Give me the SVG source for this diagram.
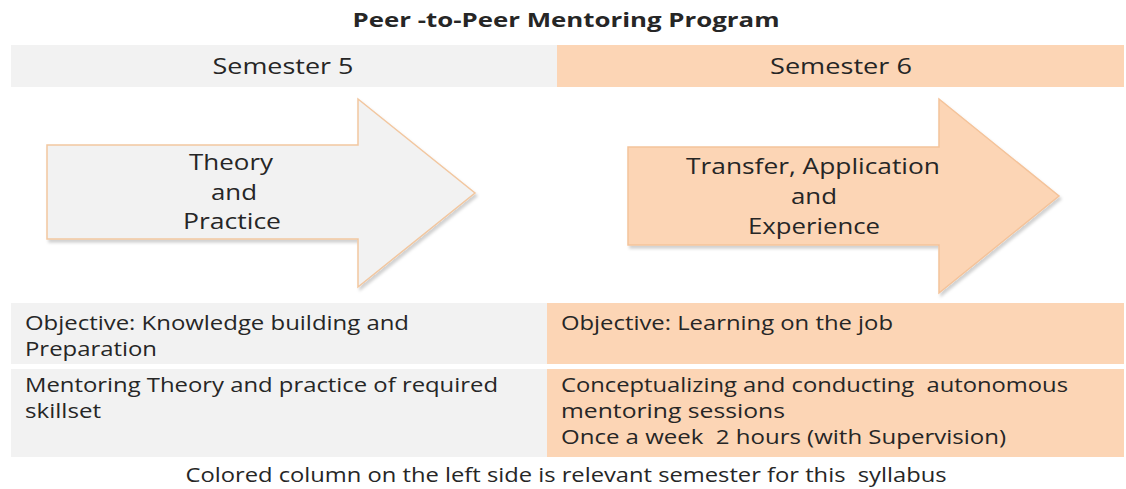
<svg xmlns="http://www.w3.org/2000/svg" width="1126" height="489" viewBox="0 0 1126 489">
<defs>
<style>
text{font-family:"Open Sans","Liberation Sans",sans-serif;fill:#262626;white-space:pre;}
.h{font-size:22px;text-anchor:middle;}
.b{font-size:20px;}
.grey{fill:#f2f2f2;}
.peach{fill:#fcd5b5;}
.arrL{fill:#f2f2f2;stroke:#f2c7a0;stroke-width:1.5;filter:url(#sh);}
.arrR{fill:#fcd5b5;stroke:#f4c39a;stroke-width:1.5;filter:url(#sh);}
</style>
<filter id="sh" x="-5%" y="-5%" width="115%" height="115%">
<feDropShadow dx="2" dy="3" stdDeviation="1.5" flood-color="#000" flood-opacity="0.18"/>
</filter>
</defs>
<rect width="1126" height="489" fill="#ffffff"/>
<g id="title">
<text x="566" y="27" style="font-size:20px;font-weight:bold;text-anchor:middle" textLength="427" lengthAdjust="spacingAndGlyphs">Peer -to-Peer Mentoring Program</text>
</g>
<g id="header-sem5">
<rect class="grey" x="11" y="45" width="546" height="42"/>
<text class="h" x="283" y="74" textLength="141" lengthAdjust="spacingAndGlyphs">Semester 5</text>
</g>
<g id="header-sem6">
<rect class="peach" x="557" y="45" width="567" height="42"/>
<text class="h" x="841" y="74" textLength="142" lengthAdjust="spacingAndGlyphs">Semester 6</text>
</g>
<g id="arrow-theory">
<polygon class="arrL" points="47,145 358,145 358,99 475,193 358,287 358,239 47,239"/>
<text class="h" x="231" y="170" textLength="84" lengthAdjust="spacingAndGlyphs">Theory</text>
<text class="h" x="234" y="200" textLength="46" lengthAdjust="spacingAndGlyphs">and</text>
<text class="h" x="232" y="229" textLength="98" lengthAdjust="spacingAndGlyphs">Practice</text>
</g>
<g id="arrow-transfer">
<polygon class="arrR" points="628,147 939,147 939,99 1059,196 939,293 939,245 628,245"/>
<text class="h" x="813" y="174" textLength="254" lengthAdjust="spacingAndGlyphs">Transfer, Application</text>
<text class="h" x="814" y="204" textLength="46" lengthAdjust="spacingAndGlyphs">and</text>
<text class="h" x="814" y="234" textLength="132" lengthAdjust="spacingAndGlyphs">Experience</text>
</g>
<g id="objective-sem5">
<rect class="grey" x="11" y="303" width="536" height="61"/>
<text class="b" x="25" y="330" textLength="384" lengthAdjust="spacingAndGlyphs">Objective: Knowledge building and</text>
<text class="b" x="25" y="356" textLength="132" lengthAdjust="spacingAndGlyphs">Preparation</text>
</g>
<g id="objective-sem6">
<rect class="peach" x="547" y="303" width="577" height="61"/>
<text class="b" x="561" y="330" textLength="332" lengthAdjust="spacingAndGlyphs">Objective: Learning on the job</text>
</g>
<g id="content-sem5">
<rect class="grey" x="11" y="369" width="536" height="88"/>
<text class="b" x="25" y="392" textLength="473" lengthAdjust="spacingAndGlyphs">Mentoring Theory and practice of required</text>
<text class="b" x="25" y="418" textLength="76" lengthAdjust="spacingAndGlyphs">skillset</text>
</g>
<g id="content-sem6">
<rect class="peach" x="547" y="369" width="577" height="88"/>
<text class="b" x="561" y="392" textLength="507" lengthAdjust="spacingAndGlyphs">Conceptualizing and conducting  autonomous</text>
<text class="b" x="561" y="418" textLength="224" lengthAdjust="spacingAndGlyphs">mentoring sessions</text>
<text class="b" x="561" y="444" textLength="445" lengthAdjust="spacingAndGlyphs">Once a week  2 hours (with Supervision)</text>
</g>
<g id="footer">
<text class="b" x="566" y="482" style="text-anchor:middle" textLength="761" lengthAdjust="spacingAndGlyphs">Colored column on the left side is relevant semester for this  syllabus</text>
</g>
<g id="connectors"></g>
</svg>
